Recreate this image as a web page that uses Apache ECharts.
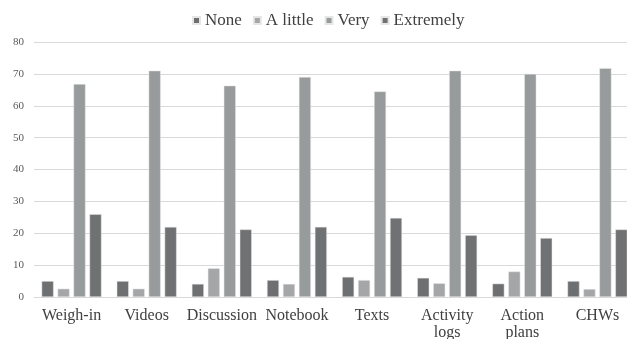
<!DOCTYPE html>
<html>
<head>
<meta charset="utf-8">
<script src="https://cdn.jsdelivr.net/npm/echarts@6/dist/echarts.min.js"></script>
<style>
  html, body { margin: 0; padding: 0; background: #fff; }
  #chart { width: 627px; height: 339px; }
</style>
</head>
<body>
<div id="chart"></div>
<script>
const categories = ['Weigh-in', 'Videos', 'Discussion', 'Notebook', 'Texts', 'Activity\nlogs', 'Action\nplans', 'CHWs'];
const seriesNames = ['None', 'A little', 'Very', 'Extremely'];
const noneValues = [5.0, 5.0, 4.1, 5.3, 6.3, 6.0, 4.2, 5.0];
const aLittleValues = [2.6, 2.6, 9.0, 4.1, 5.3, 4.3, 8.0, 2.5];
const veryValues = [66.8, 71.0, 66.3, 69.0, 64.5, 71.0, 70.0, 71.8];
const extremelyValues = [26.0, 22.0, 21.2, 22.0, 24.8, 19.4, 18.5, 21.2];
const yTicks = [0, 10, 20, 30, 40, 50, 60, 70, 80];

const colors = ['#6d6f71', '#a4a6a7', '#989b9b', '#6f7173'];
const serif = '"Liberation Serif", "DejaVu Serif", serif';

const chart = echarts.init(document.getElementById('chart'), null, { renderer: 'canvas' });

const valueSets = [noneValues, aLittleValues, veryValues, extremelyValues];

chart.setOption({
  animation: false,
  color: colors,
  legend: {
    top: 7,
    left: 187,
    itemWidth: 7,
    itemHeight: 7,
    itemGap: 11,
    icon: 'rect',
    textStyle: { fontFamily: serif, fontSize: 17, color: '#404040' },
    data: seriesNames
  },
  grid: {
    left: 34, top: 42, right: -8, height: 255,
    containLabel: false, outerBoundsMode: 'none'
  },
  xAxis: {
    type: 'category',
    data: categories,
    axisLine: { lineStyle: { color: '#d9d9d9', width: 1 } },
    axisTick: { show: false },
    axisLabel: {
      fontFamily: serif, fontSize: 16, color: '#404040',
      margin: 10, lineHeight: 17, interval: 0
    }
  },
  yAxis: {
    type: 'value',
    min: yTicks[0],
    max: yTicks[yTicks.length - 1],
    interval: 10,
    axisLine: { show: false },
    axisTick: { show: false },
    splitLine: { lineStyle: { color: '#d9d9d9', width: 1 } },
    axisLabel: { fontFamily: serif, fontSize: 11, color: '#595959', margin: 10 }
  },
  series: seriesNames.map((name, i) => ({
    name: name,
    type: 'bar',
    data: valueSets[i],
    barWidth: 12,
    barGap: '33%',
    itemStyle: { color: colors[i], borderColor: '#e6e6e6', borderWidth: 0.5 }
  }))
});
</script>
</body>
</html>
